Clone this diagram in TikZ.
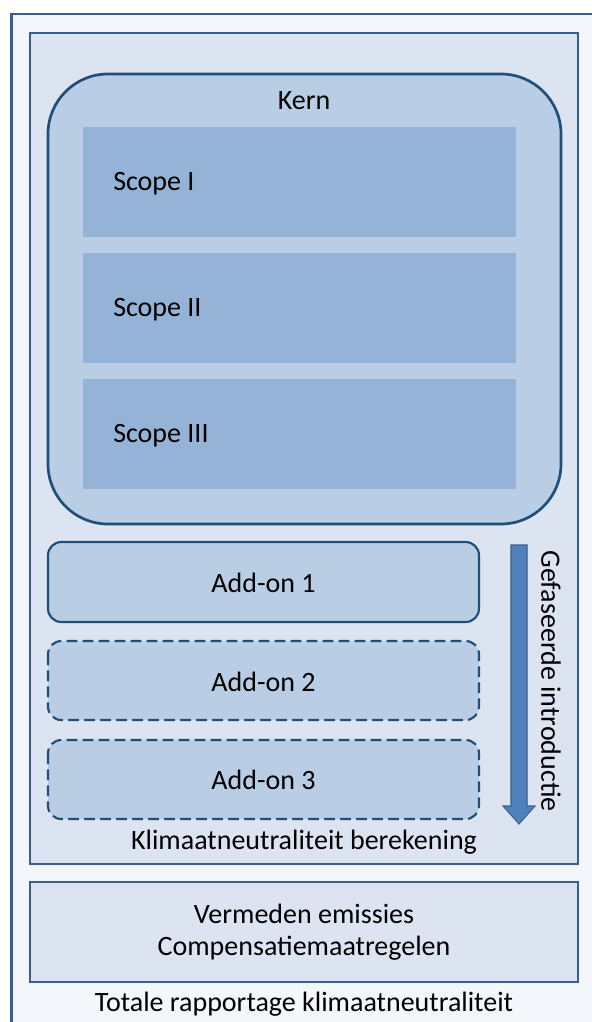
\documentclass[tikz,border=0pt]{standalone}
\usepackage{fontspec}
\setmainfont{Carlito}
\definecolor{outerfill}{HTML}{F3F6FA}
\definecolor{panelfill}{HTML}{DCE4F1}
\definecolor{kernfill}{HTML}{B9CDE5}
\definecolor{scopefill}{HTML}{95B3D7}
\definecolor{edge}{HTML}{3A5F8F}
\definecolor{darkedge}{HTML}{1F4E79}
\definecolor{arrowfill}{HTML}{4F81BD}
\tikzset{
  label text/.style={font=\fontsize{21}{24}\selectfont, inner sep=0pt},
  panel/.style={draw=edge, fill=panelfill, line width=1.8pt},
  addon/.style={draw=darkedge, fill=kernfill, line width=1.6pt, rounded corners=10pt},
}
\begin{document}
\begin{tikzpicture}[x=0.75pt, y=-0.75pt]
\useasboundingbox (0, 0) rectangle (592, 1022);
\fill[white] (0, 0) rectangle (592, 1022);
\fill[outerfill] (11.5, 14) rectangle (592, 1022);
\draw[edge, line width=1.8pt] (11.5, 1022) -- (11.5, 14) -- (592, 14);
\draw[panel] (30, 33) rectangle (578, 864);
\draw[darkedge, fill=kernfill, line width=2pt, rounded corners=45pt] (48, 74) rectangle (561, 524);
\node[label text] (kern) at (304, 101) {Kern};
\foreach \y/\txt [count=\i] in {127/Scope I, 253/Scope II, 379/Scope III} {
  \fill[scopefill] (83, \y) rectangle (516, \y+110);
  \node[label text, anchor=west] (scope\i) at (113, \y+57) {\txt};
}
\draw[addon] (48, 542) rectangle (479, 622);
\draw[addon, dash pattern=on 8pt off 4pt] (48, 641) rectangle (479, 720);
\draw[addon, dash pattern=on 8pt off 4pt] (48, 740) rectangle (479, 819);
\node[label text] (addon1) at (263.5, 583) {Add-on 1};
\node[label text] (addon2) at (263.5, 682) {Add-on 2};
\node[label text] (addon3) at (263.5, 780) {Add-on 3};
\draw[edge, fill=arrowfill, line width=0.8pt] (511, 545) -- (527, 545) -- (527, 806) -- (535, 806) -- (519, 824) -- (503, 806) -- (511, 806) -- cycle;
\node[label text, rotate=-90] (fasering) at (551, 681) {Gefaseerde introductie};
\node[label text] (berekening) at (304, 842) {Klimaatneutraliteit berekening};
\draw[panel] (30, 882) rectangle (578, 982);
\node[label text, align=center] (compensatie) at (304, 932) {Vermeden emissies\\Compensatiemaatregelen};
\node[label text] (totaal) at (304, 1004) {Totale rapportage klimaatneutraliteit};
\end{tikzpicture}
\end{document}
